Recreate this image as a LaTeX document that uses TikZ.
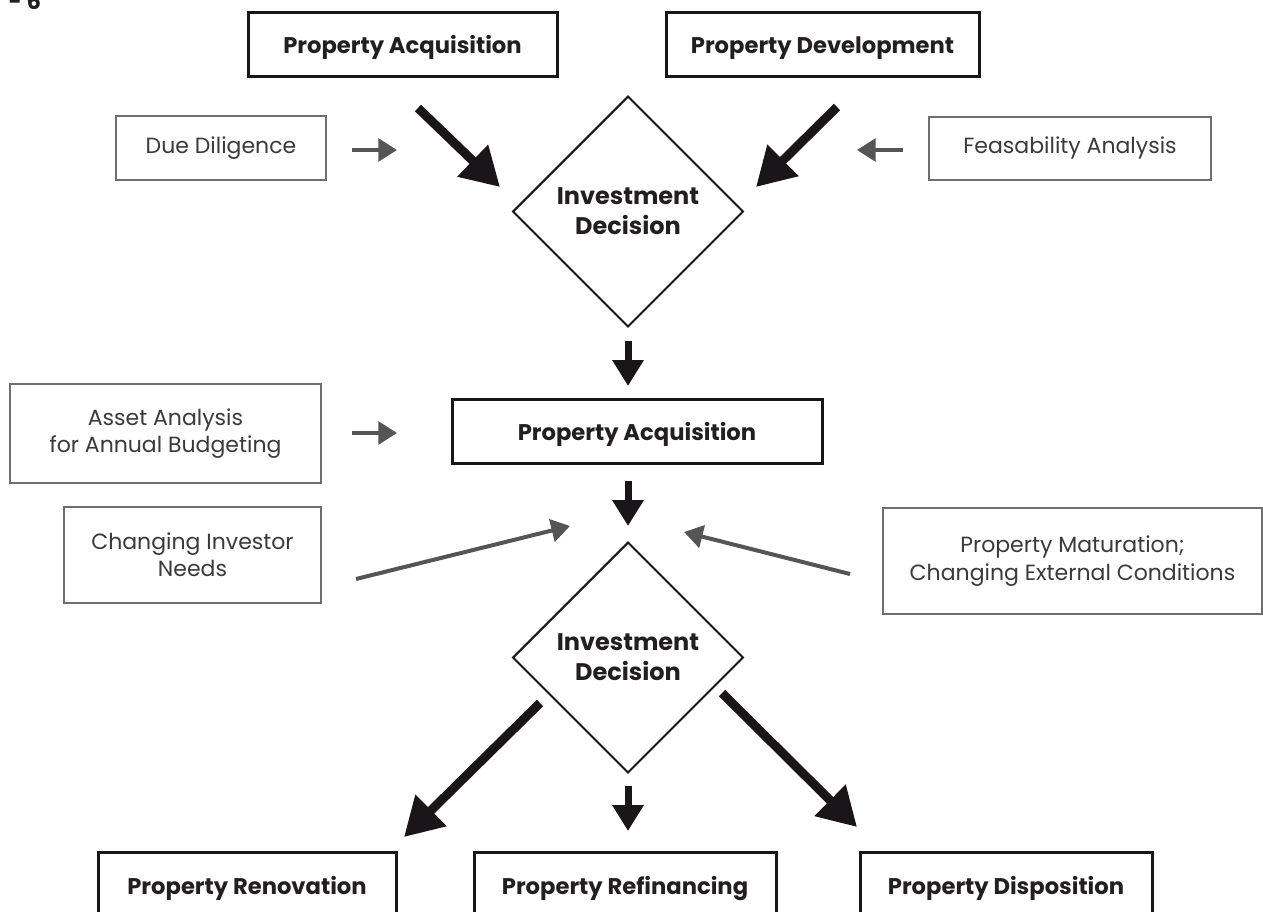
\documentclass[tikz,border=0pt]{standalone}
\usepackage{fontspec}
\setmainfont{Poppins}
\usetikzlibrary{shapes.geometric,arrows.meta}
\definecolor{ink}{HTML}{1A1518}
\definecolor{txt}{HTML}{231F20}
\definecolor{gtxt}{HTML}{3A3A3A}
\definecolor{gline}{HTML}{6E6E6E}
\definecolor{garrow}{HTML}{555555}
\begin{document}
\begin{tikzpicture}[x=0.75pt,y=-0.75pt,
 mainbox/.style={draw=ink, line width=2.25pt, inner sep=0pt, text height=13.5pt, text depth=0pt, font=\bfseries\fontsize{17}{21}\selectfont, text=txt},
 sidebox/.style={draw=gline, line width=1.5pt, inner sep=0pt, align=center, font=\fontsize{16.5}{20.5}\selectfont, text=gtxt},
 decision/.style={diamond, draw=ink, line width=1.5pt, inner sep=0pt, minimum width=173pt, minimum height=173pt, align=center, font=\bfseries\fontsize{18}{22.5}\selectfont, text=txt},
 bigarrow/.style={draw=ink, line width=6.75pt, -{Triangle[length=28.5pt,width=31.5pt]}},
 downarrow/.style={draw=ink, line width=5.25pt, -{Triangle[length=19.5pt,width=22.5pt]}},
 grayarrow/.style={draw=garrow, line width=3pt, -{Triangle[length=14pt,width=17pt]}},
]
\clip (0,0) rectangle (1263,911);
\fill[white] (0,0) rectangle (1263,911);

\node[anchor=base west, font=\bfseries\fontsize{17}{21}\selectfont, text=txt] (pg) at (4,9) {- 6};

% top row
\node[mainbox, minimum width=231.75pt, minimum height=48pt] (pa1) at (402.5,44) {Property Acquisition};
\node[mainbox, minimum width=234.75pt, minimum height=48pt] (pd) at (822.5,44) {Property Development};
\node[sidebox, minimum width=157.5pt, minimum height=48pt] (dd) at (221,148) {Due Diligence};
\node[sidebox, minimum width=211.5pt, minimum height=47.25pt] (fa) at (1070,148) {Feasability Analysis};

\node[decision] (dec1) at (628,211.5) {Investment\\Decision};

% middle
\node[sidebox, minimum width=233.25pt, minimum height=74.25pt] (aa) at (165.5,433.5) {Asset Analysis\\for Annual Budgeting};
\node[mainbox, minimum width=277.5pt, minimum height=48pt] (pa2) at (637,431) {Property Acquisition};
\node[sidebox, minimum width=192.75pt, minimum height=72pt] (cin) at (192.5,555) {Changing Investor\\Needs};
\node[sidebox, minimum width=284.25pt, minimum height=79.5pt] (pm) at (1072.5,561) {Property Maturation;\\Changing External Conditions};

\node[decision] (dec2) at (628,657.5) {Investment\\Decision};

% bottom
\node[mainbox, minimum width=223.5pt, minimum height=49.5pt] (pr) at (247,885) {Property Renovation};
\node[mainbox, minimum width=226.5pt, minimum height=49.5pt] (pref) at (625,885) {Property Refinancing};
\node[mainbox, minimum width=219pt, minimum height=49.5pt] (pdis) at (1006,885) {Property Disposition};

% arrow end points
\coordinate (a1s) at (418,108); \coordinate (a1e) at (500,187);
\coordinate (a2s) at (837,107); \coordinate (a2e) at (756,187);
\coordinate (g1s) at (352,150); \coordinate (g1e) at (397,150);
\coordinate (g2s) at (903,150); \coordinate (g2e) at (857,150);
\coordinate (d1s) at (628,341); \coordinate (d1e) at (628,386);
\coordinate (g3s) at (352,433); \coordinate (g3e) at (397,433);
\coordinate (d2s) at (628,481); \coordinate (d2e) at (628,526);
\coordinate (g4s) at (356,579); \coordinate (g4e) at (570,526);
\coordinate (g5s) at (850,574); \coordinate (g5e) at (684,532);
\coordinate (b1s) at (540,703); \coordinate (b1e) at (404,837);
\coordinate (d3s) at (628,786); \coordinate (d3e) at (628,831);
\coordinate (b2s) at (722,693); \coordinate (b2e) at (857,827);

\draw[bigarrow] (a1s) -- (a1e);
\draw[bigarrow] (a2s) -- (a2e);
\draw[grayarrow] (g1s) -- (g1e);
\draw[grayarrow] (g2s) -- (g2e);
\draw[downarrow] (d1s) -- (d1e);
\draw[grayarrow] (g3s) -- (g3e);
\draw[downarrow] (d2s) -- (d2e);
\draw[grayarrow] (g4s) -- (g4e);
\draw[grayarrow] (g5s) -- (g5e);
\draw[bigarrow] (b1s) -- (b1e);
\draw[downarrow] (d3s) -- (d3e);
\draw[bigarrow] (b2s) -- (b2e);
\end{tikzpicture}
\end{document}
